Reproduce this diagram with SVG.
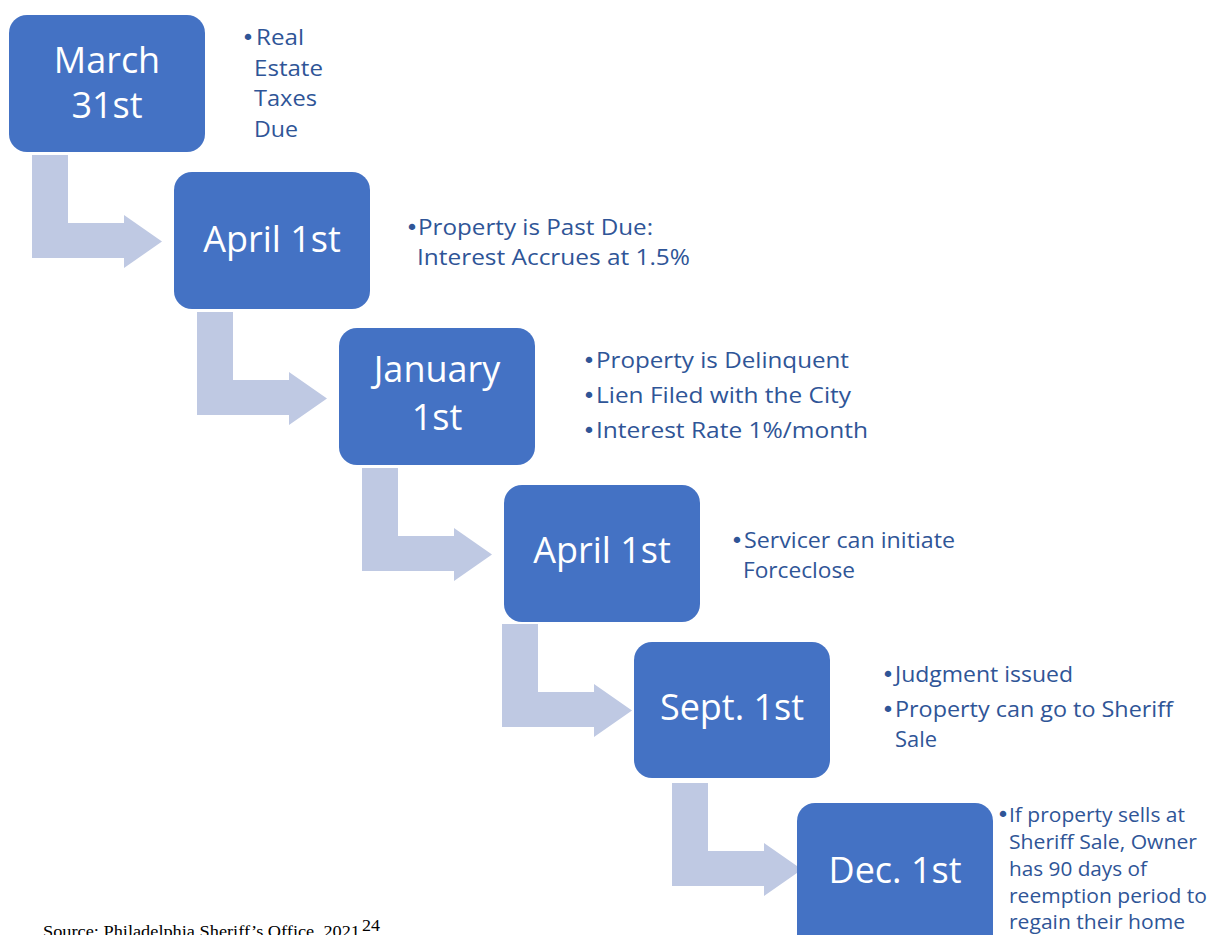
<svg xmlns="http://www.w3.org/2000/svg" width="1208" height="935" viewBox="0 0 1208 935">
<style>
.box{fill:#4472C4}
.arr{fill:#BFC9E3}
.bt{font-family:"Open Sans","Noto Sans",sans-serif;font-size:36px;fill:#FFFFFF;text-anchor:middle}
.tx{font-family:"Open Sans","Noto Sans",sans-serif;font-size:22px;fill:#2F5597}
.tx2{font-family:"Open Sans","Noto Sans",sans-serif;font-size:20px;fill:#2F5597}
.bu{font-family:"DejaVu Sans",sans-serif;font-size:22px;text-anchor:middle}
.src{font-family:"Liberation Serif","Times New Roman",serif;font-size:16px;fill:#000}
</style>
<defs>
<polygon id="arrow" points="32,155 68,155 68,223 124,223 124,215 162,241.5 124,268 124,258 32,258"/>
</defs>
<rect width="1208" height="935" fill="#FFFFFF"/>
<g id="connectors">
<use href="#arrow" class="arr"/>
<use href="#arrow" class="arr" transform="translate(165,157)"/>
<use href="#arrow" class="arr" transform="translate(330,313)"/>
<use href="#arrow" class="arr" transform="translate(470,469)"/>
<use href="#arrow" class="arr" transform="translate(640,628)"/>
</g>
<g id="node1">
<rect class="box" x="9" y="15" width="196" height="137" rx="18"/>
<text class="bt" x="107" y="73">March</text>
<text class="bt" x="107" y="118">31st</text>
<text class="tx" y="45"><tspan class="bu" x="248">•</tspan><tspan x="256" textLength="48" lengthAdjust="spacingAndGlyphs">Real</tspan></text>
<text class="tx" x="254" y="76" textLength="69" lengthAdjust="spacingAndGlyphs">Estate</text>
<text class="tx" x="254" y="106" textLength="63" lengthAdjust="spacingAndGlyphs">Taxes</text>
<text class="tx" x="254" y="137" textLength="44" lengthAdjust="spacingAndGlyphs">Due</text>
</g>
<g id="node2">
<rect class="box" x="174" y="172" width="196" height="137" rx="18"/>
<text class="bt" x="272" y="252">April 1st</text>
<text class="tx" y="235"><tspan class="bu" x="412">•</tspan><tspan x="418" textLength="235" lengthAdjust="spacingAndGlyphs">Property is Past Due:</tspan></text>
<text class="tx" x="417" y="265" textLength="273" lengthAdjust="spacingAndGlyphs">Interest Accrues at 1.5%</text>
</g>
<g id="node3">
<rect class="box" x="339" y="328" width="196" height="137" rx="18"/>
<text class="bt" x="437" y="382">January</text>
<text class="bt" x="437" y="430">1st</text>
<text class="tx" y="368"><tspan class="bu" x="589">•</tspan><tspan x="596" textLength="253" lengthAdjust="spacingAndGlyphs">Property is Delinquent</tspan></text>
<text class="tx" y="403"><tspan class="bu" x="589">•</tspan><tspan x="596" textLength="255" lengthAdjust="spacingAndGlyphs">Lien Filed with the City</tspan></text>
<text class="tx" y="438"><tspan class="bu" x="589">•</tspan><tspan x="596" textLength="272" lengthAdjust="spacingAndGlyphs">Interest Rate 1%/month</tspan></text>
</g>
<g id="node4">
<rect class="box" x="504" y="485" width="196" height="137" rx="18"/>
<text class="bt" x="602" y="563">April 1st</text>
<text class="tx" y="548"><tspan class="bu" x="737">•</tspan><tspan x="744" textLength="211" lengthAdjust="spacingAndGlyphs">Servicer can initiate</tspan></text>
<text class="tx" x="743" y="578" textLength="112" lengthAdjust="spacingAndGlyphs">Forceclose</text>
</g>
<g id="node5">
<rect class="box" x="634" y="642" width="196" height="136" rx="18"/>
<text class="bt" x="732" y="720">Sept. 1st</text>
<text class="tx" y="682"><tspan class="bu" x="888">•</tspan><tspan x="895" textLength="178" lengthAdjust="spacingAndGlyphs">Judgment issued</tspan></text>
<text class="tx" y="717"><tspan class="bu" x="888">•</tspan><tspan x="895" textLength="278" lengthAdjust="spacingAndGlyphs">Property can go to Sheriff</tspan></text>
<text class="tx" x="895" y="747" textLength="42" lengthAdjust="spacingAndGlyphs">Sale</text>
</g>
<g id="node6">
<rect class="box" x="797" y="803" width="196" height="150" rx="18"/>
<text class="bt" x="895" y="883">Dec. 1st</text>
<text class="tx2" y="822"><tspan class="bu" x="1003" font-size="20">•</tspan><tspan x="1009" textLength="176" lengthAdjust="spacingAndGlyphs">If property sells at</tspan></text>
<text class="tx2" x="1009" y="849" textLength="188" lengthAdjust="spacingAndGlyphs">Sheriff Sale, Owner</text>
<text class="tx2" x="1009" y="876" textLength="138" lengthAdjust="spacingAndGlyphs">has 90 days of</text>
<text class="tx2" x="1009" y="903" textLength="198" lengthAdjust="spacingAndGlyphs">reemption period to</text>
<text class="tx2" x="1009" y="929" textLength="176" lengthAdjust="spacingAndGlyphs">regain their home</text>
</g>
<g id="source">
<text class="src" x="43" y="937" textLength="317" lengthAdjust="spacingAndGlyphs">Source: Philadelphia Sheriff’s Office, 2021</text>
<text class="src" x="362" y="931" font-size="11" textLength="18" lengthAdjust="spacingAndGlyphs">24</text>
</g>
</svg>
